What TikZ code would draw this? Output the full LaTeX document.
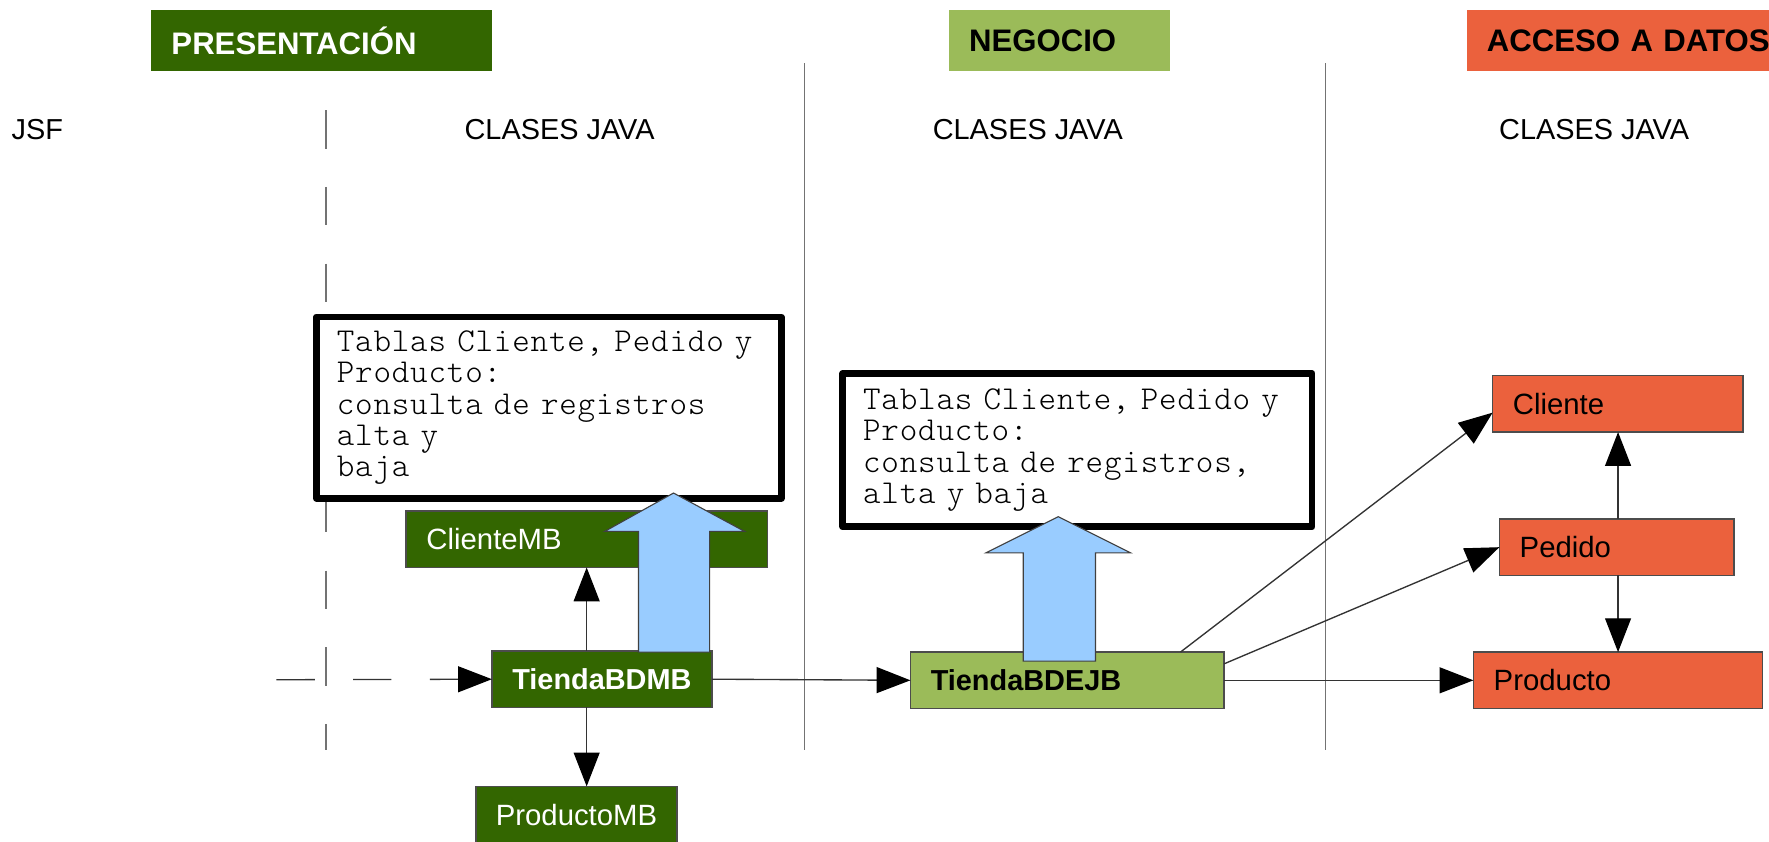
\documentclass[tikz,border=0pt]{standalone}
\usepackage{fontspec}
\setmainfont{Liberation Sans}
\setmonofont{Latin Modern Mono Light}[LetterSpace=2.5,WordSpace=1.13]
\usetikzlibrary{arrows.meta,calc}
\definecolor{presgreen}{HTML}{336600}
\definecolor{neggreen}{HTML}{9BBB59}
\definecolor{dataorange}{HTML}{EB613D}
\definecolor{flowblue}{HTML}{99CCFF}

\begin{document}
\begin{tikzpicture}[x=0.5pt,y=-0.5pt,
  hdr/.style={anchor=north west, outer sep=0pt, inner ysep=0pt, inner xsep=9pt,
    minimum height=27pt, align=left, font=\fontsize{13.8}{16}\selectfont\bfseries},
  cls/.style={anchor=north west, outer sep=0pt, draw=black!70, line width=0.6pt,
    inner ysep=0pt, inner xsep=9pt, minimum height=25pt, align=left,
    font=\fontsize{13}{15}\selectfont},
  note/.style={draw=black, line width=3pt, line join=round, fill=white, outer sep=0pt,
    inner xsep=9pt, inner ysep=0pt, align=left,
    font=\fontsize{14.8}{13.85}\selectfont\ttfamily},
  layer/.style={font=\fontsize{12.8}{15}\selectfont},
  sep/.style={draw=black!55, line width=0.6pt},
  conn/.style={draw=black!80, line width=0.6pt, -{Triangle[length=15pt,width=11.5pt,black]}},
  blockarrow/.style={fill=flowblue, draw=black!75, line width=0.5pt}
]
\useasboundingbox (0,0) rectangle (1568,746);

% layer separators
\draw[sep, dash pattern=on 17pt off 17pt] (289,97.7) -- (289,665);
\draw[sep] (713,56) -- (713,665);
\draw[sep] (1175,56) -- (1175,665);

% layer headers
\node[hdr, fill=presgreen, text=white, text width=133pt] (hpres) at (134,9) {PRESENTACIÓN};
\node[hdr, fill=neggreen, text=black, text width=80pt] (hneg) at (841,9) {NEGOCIO};
\node[hdr, fill=dataorange, text=black, text width=127pt] (hdat) at (1300,9) {ACCESO A DATOS};

\node[layer, anchor=west, inner xsep=0pt] (ljsf) at (10,115) {JSF};
\node[layer] (lcp) at (496,115) {CLASES JAVA};
\node[layer] (lcn) at (911,115) {CLASES JAVA};
\node[layer] (lcd) at (1413,115) {CLASES JAVA};

% operation notes
\node[note, minimum width=205.5pt, minimum height=80.3pt, text width=188pt] (n1) at (486.5,361.3)
  {Tablas Cliente, Pedido y\\Producto:\\consulta de registros\\alta y\\baja};
\node[note, minimum width=207.5pt, minimum height=68pt, text width=190pt] (n2) at (955,399)
  {Tablas Cliente, Pedido y\\Producto:\\consulta de registros,\\alta y baja};

% presentation beans
\node[cls, fill=presgreen, text=white, text width=142pt] (cmb) at (360,453) {ClienteMB};
\node[cls, fill=presgreen, text=white, minimum width=97.5pt, inner xsep=0pt, align=center,
  font=\fontsize{12.8}{15}\selectfont\bfseries] (tmb) at (436,577) {TiendaBDMB};
\node[cls, fill=presgreen, text=white, minimum width=89pt, inner xsep=0pt, align=center] (pmb) at (422,697) {ProductoMB};

% business bean
\node[cls, fill=neggreen, text=black, text width=121pt,
  font=\fontsize{12.8}{15}\selectfont\bfseries] (ejb) at (807,578) {TiendaBDEJB};

% data access classes
\node[cls, fill=dataorange, text=black, text width=93pt] (cli) at (1323,333) {Cliente};
\node[cls, fill=dataorange, text=black, text width=86pt] (ped) at (1329,460) {Pedido};
\node[cls, fill=dataorange, text=black, text width=110pt] (pro) at (1306,578) {Producto};

% connectors
\coordinate (jsfin) at (245,602.5);
\draw[conn, dash pattern=on 17pt off 17pt] (jsfin) -- (tmb.west);
\coordinate (up1) at ([xshift=-6.75pt]tmb.north);
\coordinate (dn1) at ([xshift=-6.75pt]tmb.south);
\draw[conn] (up1) -- (up1 |- cmb.south);
\draw[conn] (dn1) -- (dn1 |- pmb.north);
\draw[conn] (tmb.east) -- (ejb.west);
\draw[conn] (ejb.14.5) -- (cli.184);
\draw[conn] (ejb.6.6) -- (ped.west);
\draw[conn] (ejb.east) -- (pro.west);
\coordinate (pu) at ([xshift=0.6pt]ped.north);
\coordinate (pd) at ([xshift=0.6pt]ped.south);
\draw[conn] (pu) -- (pu |- cli.south);
\draw[conn] (pd) -- (pd |- pro.north);

% block arrows towards the notes
\draw[blockarrow] (566,578) -- (566,471) -- (536,471) -- (597,437) -- (660,471)
  -- (629,471) -- (629,578) -- cycle;
\draw[blockarrow] (907,586) -- (907,490) -- (874,490) -- (938,458) -- (1002,490)
  -- (971,490) -- (971,586) -- cycle;
\end{tikzpicture}
\end{document}
